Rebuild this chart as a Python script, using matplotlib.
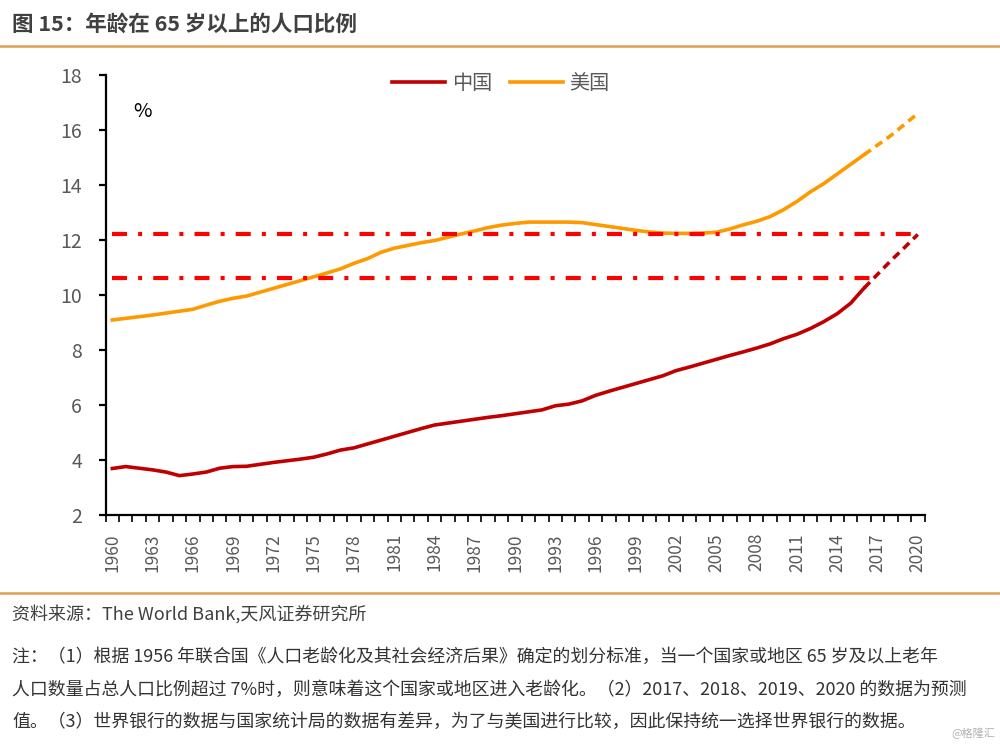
import matplotlib
matplotlib.use("Agg")
import matplotlib.pyplot as plt
import numpy as np

plt.rcParams['font.family'] = ['Noto Sans CJK SC', 'DejaVu Sans']
plt.rcParams['lines.scale_dashes'] = False

years = list(range(1960, 2021))
china = [3.69, 3.76, 3.70, 3.64, 3.56, 3.43, 3.49, 3.56, 3.70, 3.76,
         3.77, 3.84, 3.91, 3.97, 4.03, 4.10, 4.22, 4.36, 4.44, 4.58,
         4.72, 4.86, 5.00, 5.14, 5.27, 5.34, 5.41, 5.48, 5.55, 5.61,
         5.68, 5.75, 5.82, 5.97, 6.03, 6.15, 6.35, 6.50, 6.64, 6.78,
         6.92, 7.06, 7.25, 7.38, 7.52, 7.66, 7.80, 7.93, 8.07, 8.22,
         8.41, 8.57, 8.78, 9.03, 9.32, 9.70, 10.25, 10.75, 11.25, 11.72, 12.20]
usa = [9.09, 9.15, 9.21, 9.27, 9.34, 9.41, 9.48, 9.63, 9.77, 9.88,
       9.96, 10.10, 10.24, 10.38, 10.52, 10.66, 10.80, 10.95, 11.15, 11.32,
       11.55, 11.70, 11.80, 11.90, 11.98, 12.10, 12.22, 12.33, 12.45, 12.54,
       12.60, 12.65, 12.65, 12.65, 12.65, 12.63, 12.56, 12.49, 12.42, 12.35,
       12.29, 12.25, 12.24, 12.24, 12.25, 12.28, 12.40, 12.55, 12.68, 12.85,
       13.10, 13.40, 13.75, 14.05, 14.40, 14.75, 15.10, 15.45, 15.80, 16.20, 16.60]
last_actual = 2016
ref_high = 12.2
ref_low = 10.6
ref_low_end = 2016.6

title = "图 15：年龄在 65 岁以上的人口比例"
source = "资料来源：The World Bank,天风证券研究所"
notes = ["注：（1）根据 1956 年联合国《人口老龄化及其社会经济后果》确定的划分标准，当一个国家或地区 65 岁及以上老年",
         "人口数量占总人口比例超过 7%时，则意味着这个国家或地区进入老龄化。（2）2017、2018、2019、2020 的数据为预测",
         "值。（3）世界银行的数据与国家统计局的数据有差异，为了与美国进行比较，因此保持统一选择世界银行的数据。"]

yrs = np.array(years)
cn = np.array(china)
us = np.array(usa)
solid = yrs <= last_actual
proj = yrs >= last_actual

c_cn = '#C00000'
c_us = '#FF9900'
dashdot = (0, (10.8, 8.0, 2.9, 8.0))

fig = plt.figure(figsize=(10, 7.46), dpi=100)
ax = fig.add_axes([0.1056, 0.3097, 0.8189, 0.5898])

ax.plot(yrs[solid], cn[solid], color=c_cn, lw=2.6, label='中国')
ax.plot(yrs[solid], us[solid], color=c_us, lw=2.6, label='美国')
ax.plot(yrs[proj], cn[proj], color=c_cn, lw=2.6, ls=(0, (6, 4)))
ax.plot(yrs[proj], us[proj], color=c_us, lw=2.6, ls=(0, (6, 4)))
ax.plot([1960, 2020], [ref_high, ref_high], color='#FF0000', lw=3, ls=dashdot)
ax.plot([1960, ref_low_end], [ref_low, ref_low], color='#FF0000', lw=3, ls=dashdot)

ax.set_xlim(1959.5, 2020.5)
ax.set_ylim(2, 18)
ax.set_yticks(range(2, 19, 2))
ax.set_xticks(years[::3])
ax.set_xticklabels([str(y) for y in years[::3]], rotation=90)
ax.set_xticks(np.arange(1959.5, 2021, 1), minor=True)
ax.tick_params(axis='x', which='major', length=0, pad=13, labelsize=12.5, labelcolor='#595959')
ax.tick_params(axis='x', which='minor', length=5, width=1.2, color='black')
ax.tick_params(axis='y', length=5, width=1.6, pad=12, labelsize=14, labelcolor='#595959')
for s in ['top', 'right']:
    ax.spines[s].set_visible(False)
for s in ['left', 'bottom']:
    ax.spines[s].set_linewidth(1.6)

ax.text(0.045, 0.916, '%', transform=ax.transAxes, fontsize=14.5, ha='center', va='center')
ax.legend(loc='center', bbox_to_anchor=(0.483, 0.98), ncol=2, frameon=False, borderpad=0,
          fontsize=14.5, labelcolor='#595959', handlelength=2.6, columnspacing=0.9,
          handletextpad=0.35)

fig.text(0.012, 0.968, title, fontsize=15.5, fontweight='bold', color='#404040', va='center')
fig.add_artist(plt.Line2D([0, 1], [0.939, 0.939], transform=fig.transFigure, color='#E0A050', lw=1.8))
fig.add_artist(plt.Line2D([0, 1], [0.205, 0.205], transform=fig.transFigure, color='#E0A050', lw=1.8))
fig.text(0.012, 0.177, source, fontsize=13, color='#404040', va='center')
for i, line in enumerate(notes):
    fig.text(0.012, 0.119 - i * 0.0435, line, fontsize=12.9, color='#333333', va='center')
fig.text(0.995, 0.017, '@格隆汇', fontsize=8, color='#B0B0B0', ha='right', va='center')

fig.savefig('out.png', dpi=100)
